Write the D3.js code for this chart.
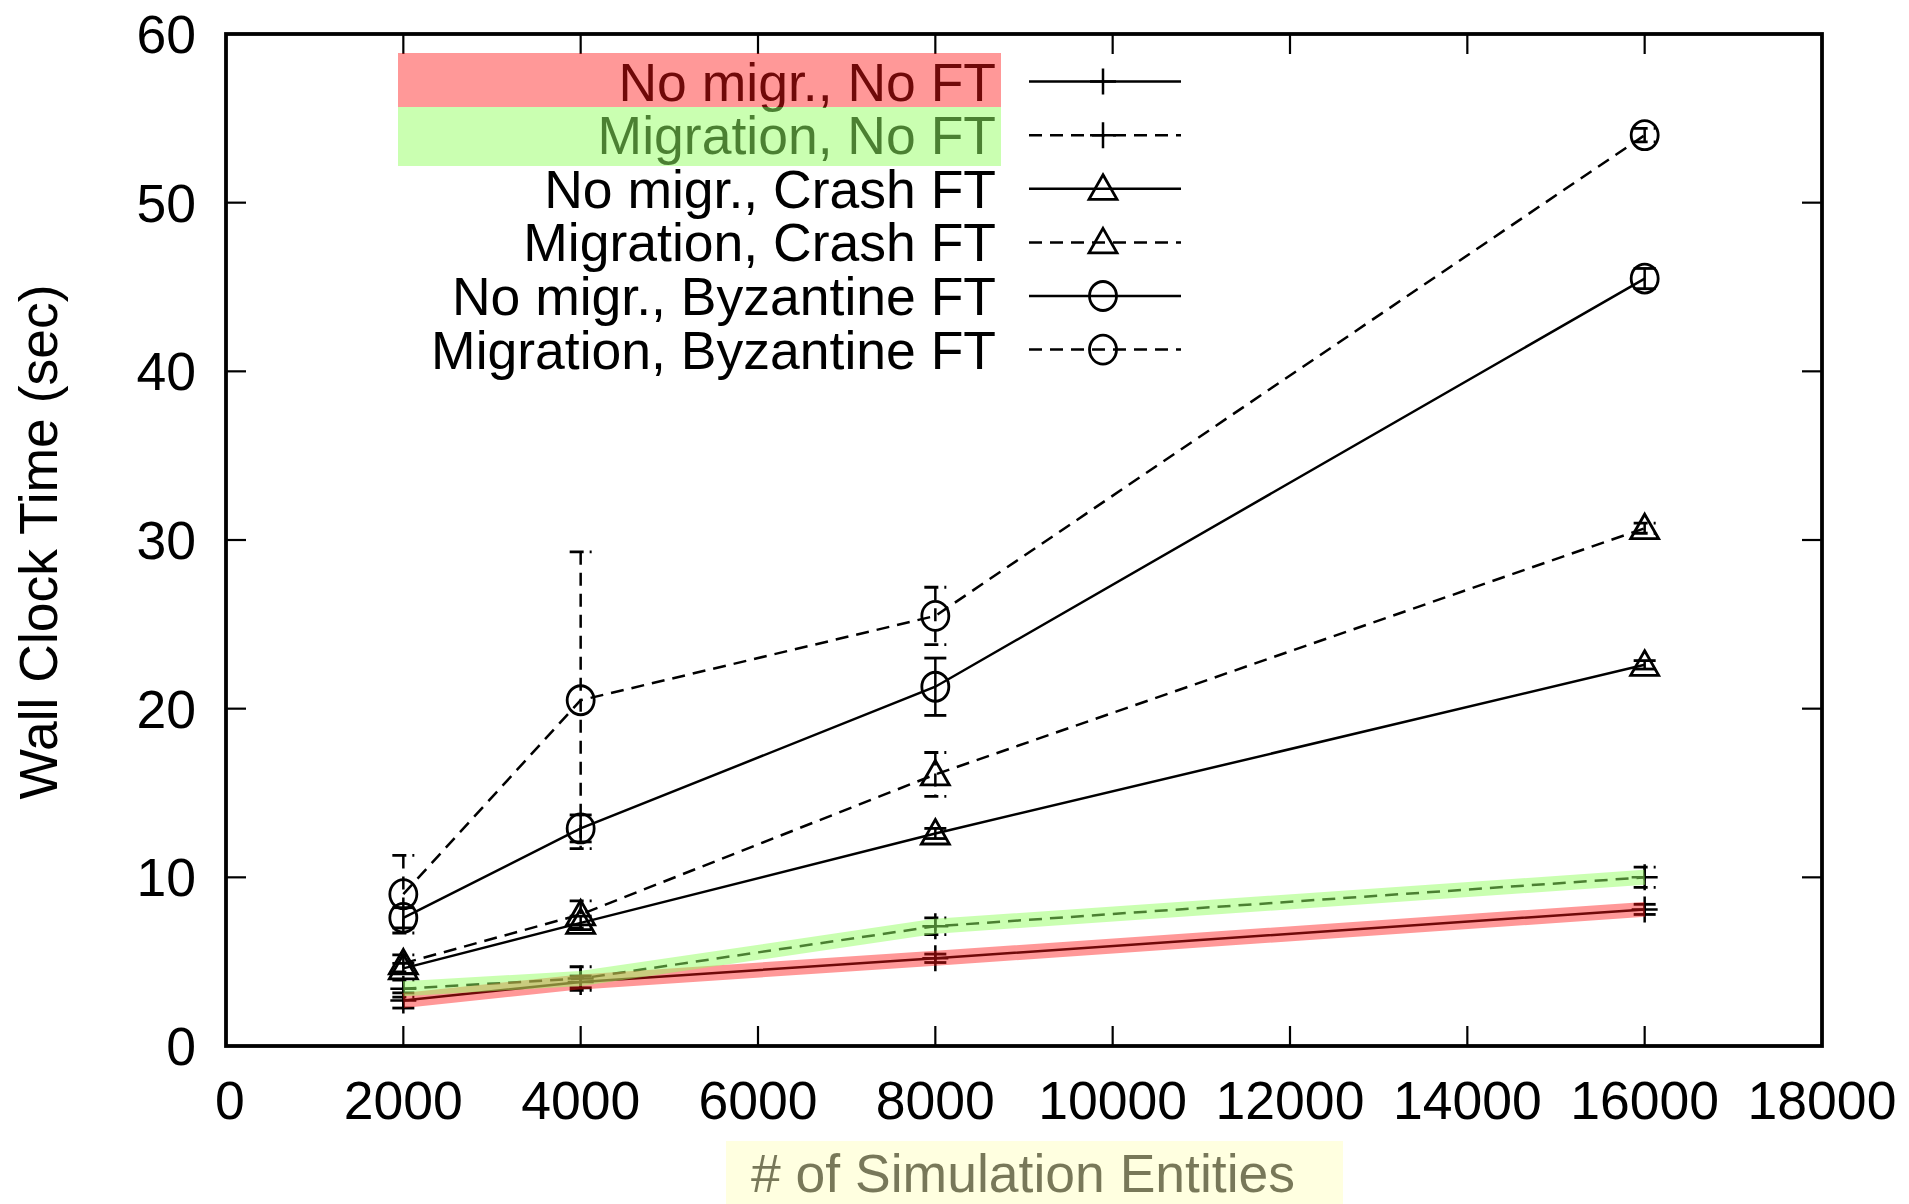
<!DOCTYPE html>
<html>
<head>
<meta charset="utf-8">
<script src="https://cdn.jsdelivr.net/npm/d3@7"></script>
<style>
  html, body { margin: 0; padding: 0; background: #fff; }
  svg { display: block; font-family: "Liberation Sans", Arial, Helvetica, sans-serif; }
</style>
</head>
<body>
<svg id="chart" width="1909" height="1204"></svg>
<script>
// Number of simulated entities (x positions of every measurement)
const entities = [2000, 4000, 8000, 16000];

// Series names, in legend order
const seriesNames = [
  "No migr., No FT",
  "Migration, No FT",
  "No migr., Crash FT",
  "Migration, Crash FT",
  "No migr., Byzantine FT",
  "Migration, Byzantine FT"
];

// Mean wall clock time (sec) per series
const noMigrNoFT       = [2.7, 3.8, 5.2, 8.1];
const migrNoFT         = [3.4, 4.0, 7.1, 10.0];
const noMigrCrashFT    = [4.6, 7.3, 12.6, 22.6];
const migrCrashFT      = [4.9, 7.8, 16.1, 30.7];
const noMigrByzFT      = [7.6, 12.9, 21.3, 45.5];
const migrByzFT        = [9.0, 20.5, 25.5, 54.0];

// Half-width of the error bars (sec) per series
const errNoMigrNoFT    = [0.45, 0.35, 0.25, 0.3];
const errMigrNoFT      = [0.5, 0.7, 0.5, 0.6];
const errNoMigrCrashFT = [0.3, 0.4, 0.3, 0.25];
const errMigrCrashFT   = [0.5, 0.8, 1.3, 0.3];
const errNoMigrByzFT   = [0.6, 0.8, 1.7, 0.6];
const errMigrByzFT     = [2.3, 8.8, 1.7, 0.4];

// Axis tick values
const xTicks = [0, 2000, 4000, 6000, 8000, 10000, 12000, 14000, 16000, 18000];
const yTicks = [0, 10, 20, 30, 40, 50, 60];

const seriesValues = [noMigrNoFT, migrNoFT, noMigrCrashFT, migrCrashFT, noMigrByzFT, migrByzFT];
const seriesErrors = [errNoMigrNoFT, errMigrNoFT, errNoMigrCrashFT, errMigrCrashFT, errNoMigrByzFT, errMigrByzFT];
const seriesDashed = [false, true, false, true, false, true];
const seriesMarker = ["plus", "plus", "triangle", "triangle", "circle", "circle"];
// translucent highlight drawn over the two baseline series
const seriesHighlight = ["rgba(255,20,20,0.44)", "rgba(150,255,100,0.5)", null, null, null, null];

const plot = { left: 226, right: 1822, top: 34, bottom: 1046 };

const svg = d3.select("#chart");
const x = d3.scaleLinear().domain([0, 18000]).range([plot.left, plot.right]);
const y = d3.scaleLinear().domain([0, 60]).range([plot.bottom, plot.top]);

const DASH = "13,8";
const FONT = 53.5;
const LW = 2.5;

// ---- ticks (inward on all four sides) and tick labels ----
const tickLen = 20;
const ax = svg.append("g");
ax.selectAll(".xt").data(xTicks.filter(d => d > 0 && d < 18000)).join("g").each(function(d) {
  const g = d3.select(this);
  g.append("line").attr("x1", x(d)).attr("x2", x(d)).attr("y1", plot.bottom).attr("y2", plot.bottom - tickLen)
    .attr("stroke", "#000").attr("stroke-width", 2.2);
  g.append("line").attr("x1", x(d)).attr("x2", x(d)).attr("y1", plot.top).attr("y2", plot.top + tickLen)
    .attr("stroke", "#000").attr("stroke-width", 2.2);
});
ax.selectAll(".yt").data(yTicks.filter(d => d > 0 && d < 60)).join("g").each(function(d) {
  const g = d3.select(this);
  g.append("line").attr("x1", plot.left).attr("x2", plot.left + tickLen).attr("y1", y(d)).attr("y2", y(d))
    .attr("stroke", "#000").attr("stroke-width", 2.2);
  g.append("line").attr("x1", plot.right).attr("x2", plot.right - tickLen).attr("y1", y(d)).attr("y2", y(d))
    .attr("stroke", "#000").attr("stroke-width", 2.2);
});
ax.selectAll(".xl").data(xTicks).join("text")
  .attr("x", d => x(d) + (d === 0 ? 4 : 0)).attr("y", 1119)
  .attr("text-anchor", "middle").attr("font-size", FONT).text(d => d);
ax.selectAll(".yl").data(yTicks).join("text")
  .attr("x", 196).attr("y", d => y(d) + 19)
  .attr("text-anchor", "end").attr("font-size", FONT).text(d => d);

// ---- markers ----
function drawMarker(g, cx, cy, type) {
  if (type === "plus") {
    g.append("path").attr("d", `M${cx - 13},${cy}H${cx + 13}M${cx},${cy - 13}V${cy + 13}`)
      .attr("stroke", "#000").attr("stroke-width", LW).attr("fill", "none");
  } else if (type === "triangle") {
    const s = 14;
    g.append("path").attr("d", `M${cx},${cy - s}L${cx + s},${cy + s * 0.75}L${cx - s},${cy + s * 0.75}Z`)
      .attr("stroke", "#000").attr("stroke-width", 2.8).attr("fill", "none");
  } else {
    g.append("ellipse").attr("cx", cx).attr("cy", cy).attr("rx", 13.5).attr("ry", 14.5)
      .attr("stroke", "#000").attr("stroke-width", 2.8).attr("fill", "none");
  }
}

const line = d3.line().x(d => x(d[0])).y(d => y(d[1]));
const capHalf = 11;

seriesValues.forEach((vals, i) => {
  const g = svg.append("g");
  const pts = entities.map((e, k) => [e, vals[k]]);
  const dash = seriesDashed[i] ? DASH : null;
  // error bars: vertical segment and caps, in the series' line style
  entities.forEach((e, k) => {
    const cx = x(e), lo = y(vals[k] - seriesErrors[i][k]), hi = y(vals[k] + seriesErrors[i][k]);
    g.append("line").attr("x1", cx).attr("x2", cx).attr("y1", hi).attr("y2", lo)
      .attr("stroke", "#000").attr("stroke-width", LW).attr("stroke-dasharray", dash);
    [hi, lo].forEach(yy => {
      g.append("line").attr("x1", cx - capHalf).attr("x2", cx + capHalf).attr("y1", yy).attr("y2", yy)
        .attr("stroke", "#000").attr("stroke-width", 2.8).attr("stroke-dasharray", seriesDashed[i] ? "14,6" : null);
    });
  });
  g.append("path").datum(pts).attr("d", line).attr("fill", "none")
    .attr("stroke", "#000").attr("stroke-width", LW).attr("stroke-dasharray", dash);
  pts.forEach(p => drawMarker(g, x(p[0]), y(p[1]), seriesMarker[i]));
});

// translucent bands over the baseline series
seriesValues.forEach((vals, i) => {
  if (!seriesHighlight[i]) return;
  svg.append("path").datum(entities.map((e, k) => [e, vals[k]])).attr("d", line)
    .attr("fill", "none").attr("stroke", seriesHighlight[i]).attr("stroke-width", 15)
    .attr("stroke-linejoin", "round").attr("stroke-linecap", "butt");
});

// ---- frame ----
svg.append("rect").attr("x", plot.left).attr("y", plot.top)
  .attr("width", plot.right - plot.left).attr("height", plot.bottom - plot.top)
  .attr("fill", "none").attr("stroke", "#000").attr("stroke-width", 3.8);

// ---- legend ----
const legend = svg.append("g");
const rowY0 = 81.6, rowStep = 53.6;
seriesNames.forEach((name, i) => {
  const cy = rowY0 + i * rowStep;
  legend.append("text").attr("x", 996).attr("y", cy + 19).attr("text-anchor", "end")
    .attr("font-size", FONT).text(name);
  legend.append("line").attr("x1", 1029).attr("x2", 1181).attr("y1", cy).attr("y2", cy)
    .attr("stroke", "#000").attr("stroke-width", LW)
    .attr("stroke-dasharray", seriesDashed[i] ? "13,8" : null);
  drawMarker(legend, 1103, cy, seriesMarker[i]);
});
// highlight boxes over the first two legend entries
legend.append("rect").attr("x", 398).attr("y", 53).attr("width", 603).attr("height", 54)
  .attr("fill", seriesHighlight[0]);
legend.append("rect").attr("x", 398).attr("y", 107).attr("width", 603).attr("height", 59)
  .attr("fill", seriesHighlight[1]);

// ---- axis titles ----
svg.append("text").attr("transform", "translate(57,542) rotate(-90)")
  .attr("text-anchor", "middle").attr("font-size", FONT).text("Wall Clock Time (sec)");
svg.append("text").attr("x", 1023).attr("y", 1192).attr("text-anchor", "middle")
  .attr("font-size", FONT).text("# of Simulation Entities");
svg.append("rect").attr("x", 726).attr("y", 1141).attr("width", 617).attr("height", 63)
  .attr("fill", "rgba(255,255,190,0.47)");
</script>
</body>
</html>
